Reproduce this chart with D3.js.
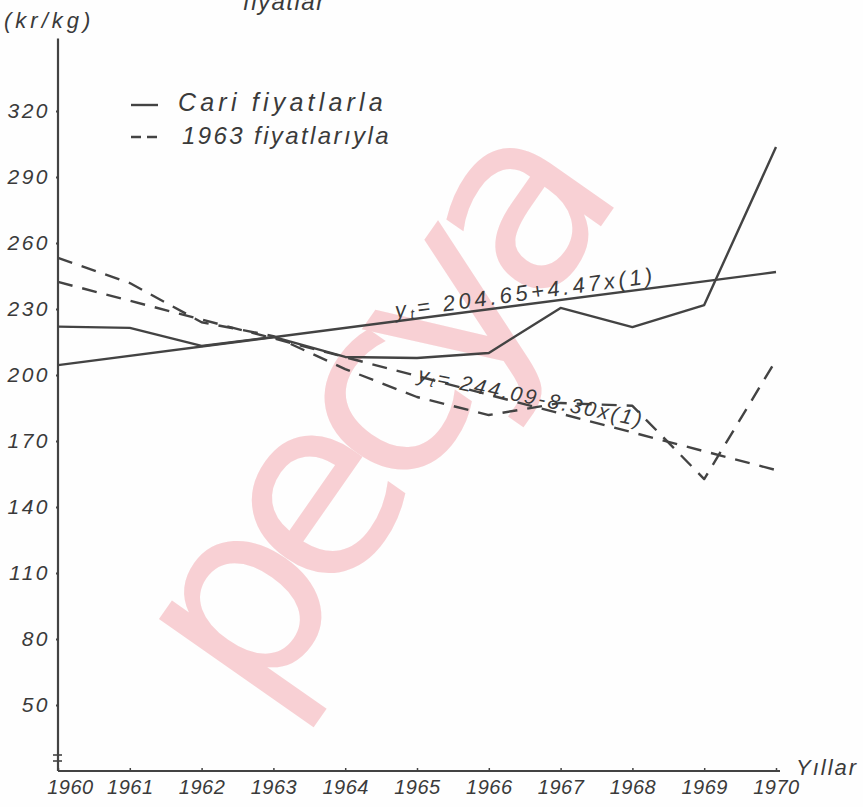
<!DOCTYPE html>
<html>
<head>
<meta charset="utf-8">
<script src="https://cdn.jsdelivr.net/npm/d3@7/dist/d3.min.js"></script>
<style>
  html, body { margin: 0; padding: 0; background: #fefefe; }
  svg { display: block; }
  text { font-family: "Liberation Sans", "DejaVu Sans", sans-serif; font-style: italic; fill: #3a3a3a; }
</style>
</head>
<body>
<svg id="chart" width="863" height="807"></svg>
<script>
// ---- data ----
const years = [1960, 1961, 1962, 1963, 1964, 1965, 1966, 1967, 1968, 1969, 1970];
const cariFiyatlarla = [222, 221.4, 213.2, 217.3, 208.2, 207.7, 210, 230.5, 221.8, 231.8, 303.6];
const fiyatlar1963 = [253.2, 241.8, 224, 217.7, 202.7, 190, 181.8, 187.3, 186, 152.7, 206.8];
const trendYears = [1960, 1970];
const trendCari = [204.5, 246.8];
const trend1963 = [242.3, 156.8];
const yTicks = [50, 80, 110, 140, 170, 200, 230, 260, 290, 320];
const xTickLabels = ["1960", "1961", "1962", "1963", "1964", "1965", "1966", "1967", "1968", "1969", "1970"];
const legendLabels = ["Cari fiyatlarla", "1963 fiyatlarıyla"];
const eqCari = ["204.65+4.47x(1)"];
const eq1963 = ["244.09-8.30x(1)"];

// ---- drawing ----
const svg = d3.select("#chart");
const ink = "#434343";

const x = d3.scaleLinear().domain([1960, 1970]).range([58, 776]);
const y = d3.scaleLinear().domain([50, 320]).range([705, 111]);
const axisBottomValue = 20, axisTopValue = 353;

// watermark
svg.append("text")
  .attr("transform", "translate(258,716) rotate(-55)")
  .style("font-style", "normal")
  .style("font-family", "'DejaVu Sans', sans-serif")
  .style("font-size", "250px")
  .style("letter-spacing", "-27px")
  .style("fill", "#f7c9cd")
  .style("opacity", 0.85)
  .text("pecya");

// partial title at the top (cut off in the original)
svg.append("text").attr("x", 243).attr("y", 10).style("font-size", "24px")
  .style("letter-spacing", "1.5px").text("fiyatlar");

// y unit
svg.append("text").attr("x", 4).attr("y", 28).style("font-size", "22px")
  .style("letter-spacing", "4px").text("(kr/kg)");

// y axis line
svg.append("line")
  .attr("x1", x(1960)).attr("x2", x(1960))
  .attr("y1", y(axisTopValue)).attr("y2", y(axisBottomValue))
  .attr("stroke", ink).attr("stroke-width", 2.2);

// axis break mark
[-1, 1].forEach(k => {
  svg.append("line")
    .attr("x1", x(1960) - 5).attr("x2", x(1960) + 4)
    .attr("y1", y(axisBottomValue) - 13 + k * 3).attr("y2", y(axisBottomValue) - 13 + k * 3)
    .attr("stroke", ink).attr("stroke-width", 1.6);
});

// y ticks + labels
const yAxis = d3.axisLeft(y).tickValues(yTicks).tickSize(3).tickFormat(d3.format("d"));
const gy = svg.append("g").attr("transform", `translate(${x(1960) + 1},0)`).call(yAxis);
gy.select(".domain").remove();
gy.selectAll(".tick line").attr("stroke", ink).attr("stroke-width", 2);
gy.selectAll(".tick text")
  .attr("x", -9)
  .style("font-size", "21px")
  .style("letter-spacing", "2.5px")
  .style("fill", "#3a3a3a")
  .style("font-family", "'Liberation Sans', sans-serif")
  .style("font-style", "italic");

// x axis
const gx = svg.append("g").attr("transform", `translate(0,${y(axisBottomValue)})`)
  .call(d3.axisBottom(x).tickValues(years).tickSize(-3).tickFormat((d, i) => xTickLabels[i]));
gx.select(".domain").attr("stroke", ink).attr("stroke-width", 2.2)
  .attr("d", `M${x(1960)},0H${x(1970) + 4}`);
gx.selectAll(".tick line").attr("stroke", ink).attr("stroke-width", 1.5);
gx.selectAll(".tick text")
  .attr("y", 9)
  .attr("dx", (d, i) => i === 0 ? 12 : 0)
  .style("font-size", "20px")
  .style("letter-spacing", "0.5px")
  .style("fill", "#3a3a3a")
  .style("font-family", "'Liberation Sans', sans-serif")
  .style("font-style", "italic");

svg.append("text").attr("x", 796).attr("y", 775).style("font-size", "22px")
  .style("letter-spacing", "2px").text("Yıllar");

// lines
const line = d3.line().x(d => x(d[0])).y(d => y(d[1]));
const solidSeries = years.map((yr, i) => [yr, cariFiyatlarla[i]]);
const dashedSeries = years.map((yr, i) => [yr, fiyatlar1963[i]]);
const solidTrend = trendYears.map((yr, i) => [yr, trendCari[i]]);
const dashedTrend = trendYears.map((yr, i) => [yr, trend1963[i]]);

function draw(data, dashed) {
  svg.append("path").datum(data)
    .attr("d", line)
    .attr("fill", "none")
    .attr("stroke", ink)
    .attr("stroke-width", 2.4)
    .attr("stroke-linejoin", "round")
    .attr("stroke-dasharray", dashed ? "15,10" : null);
}
draw(solidTrend, false);
draw(dashedTrend, true);
draw(solidSeries, false);
draw(dashedSeries, true);

// trend equations
const t1 = svg.append("text")
  .attr("transform", `translate(396,318) rotate(-7.8)`)
  .style("font-size", "22px").style("letter-spacing", "3.6px");
t1.append("tspan").text("y");
t1.append("tspan").attr("dy", 3).style("font-size", "14px").text("t");
t1.append("tspan").attr("dy", -3).text("= " + eqCari[0]);

const t2 = svg.append("text")
  .attr("transform", `translate(417,381) rotate(11.5)`)
  .style("font-size", "21px").style("letter-spacing", "2.6px");
t2.append("tspan").text("y");
t2.append("tspan").attr("dy", 3).style("font-size", "14px").text("t");
t2.append("tspan").attr("dy", -3).text("= " + eq1963[0]);

// legend
const lg = svg.append("g");
lg.append("line").attr("x1", 131).attr("x2", 158).attr("y1", 105).attr("y2", 105)
  .attr("stroke", ink).attr("stroke-width", 2.4);
lg.append("line").attr("x1", 131).attr("x2", 158).attr("y1", 137).attr("y2", 137)
  .attr("stroke", ink).attr("stroke-width", 2.4).attr("stroke-dasharray", "10,6");
lg.append("text").attr("x", 178).attr("y", 111).style("font-size", "25px")
  .style("letter-spacing", "4.2px").text(legendLabels[0]);
lg.append("text").attr("x", 182).attr("y", 144).style("font-size", "24px")
  .style("letter-spacing", "2.4px").text(legendLabels[1]);
</script>
</body>
</html>
